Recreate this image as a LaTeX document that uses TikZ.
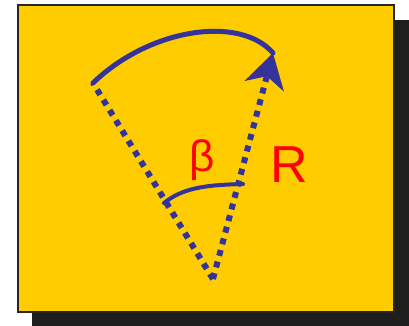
\documentclass[tikz,border=0pt]{standalone}
\usepackage{fontspec}
\setmainfont{Liberation Sans}
\usetikzlibrary{arrows.meta}
\definecolor{gold}{HTML}{FFCC00}
\definecolor{navy}{HTML}{333399}
\definecolor{castgray}{HTML}{1E1E1E}

\begin{document}
\begin{tikzpicture}[x=1pt,y=-1pt,
  radius/.style={navy,line width=6pt,dash pattern=on 6pt off 6pt},
  sweep/.style={navy,line width=5pt,line cap=round},
  lbl/.style={red,font=\fontsize{50}{50}\selectfont,inner sep=0pt}]
\useasboundingbox (0,0) rectangle (409,326);
% card with its shadow
\fill[castgray] (32,20) rectangle (409,326);
\draw[line width=1.5pt,fill=gold,draw=black!85] (18,5) rectangle (394,312);
% sector
\coordinate (apex) at (213,279);
\coordinate (lend) at (93,83);
\coordinate (tip) at (273,53);
\draw[radius] (apex) -- (lend);
\draw[radius,-{Stealth[length=34pt,width=40pt,inset=10pt]}] (apex) -- (tip);
\draw[sweep] (lend) .. controls (150,28) and (240,15) .. (tip);
% angle
\coordinate (b1) at (164,203);
\coordinate (b2) at (243,184);
\draw[sweep,line width=4pt] (b1) .. controls (185,186) and (212,185) .. (b2);
\node[lbl,font=\fontsize{44}{44}\selectfont] (beta) at (202,160) {β};
\node[lbl,font=\fontsize{52}{52}\selectfont] (rr) at (289,165) {R};
\end{tikzpicture}
\end{document}
